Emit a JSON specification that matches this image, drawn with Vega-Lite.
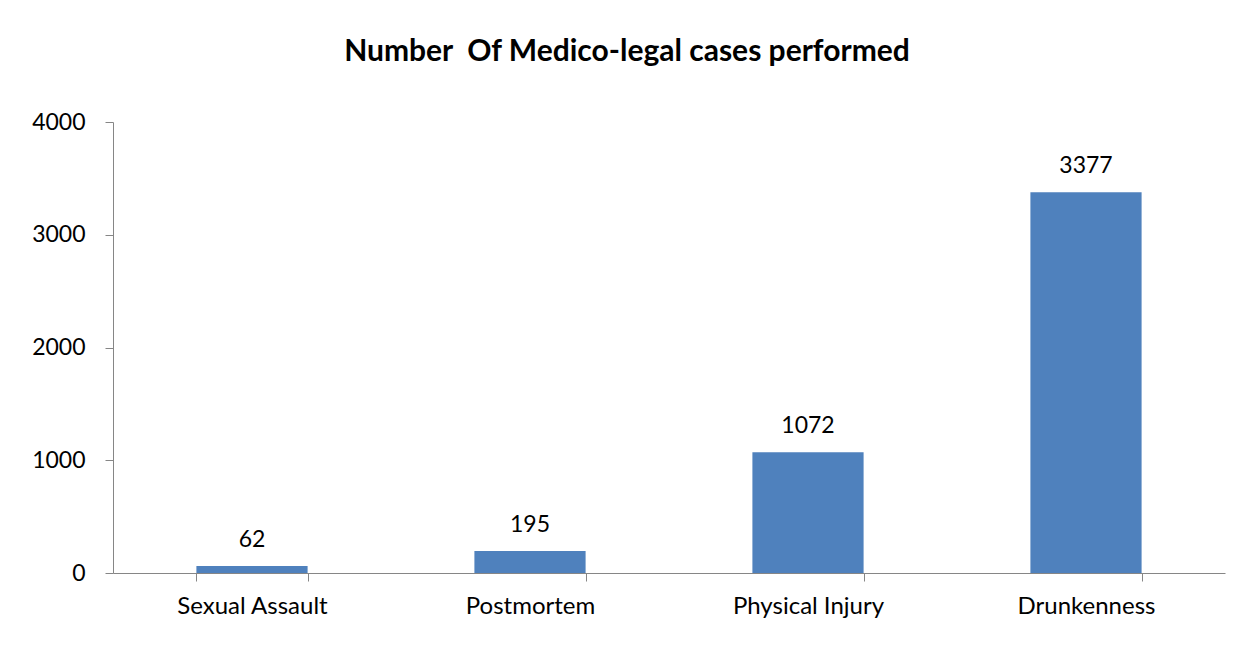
{
  "$schema": "https://vega.github.io/schema/vega-lite/v6.json",
  "autosize": "none",
  "width": 1112,
  "height": 451,
  "padding": {"left": 113, "top": 122, "right": 10, "bottom": 78},
  "background": "white",
  "title": {
    "text": "Number \u00a0Of Medico-legal cases performed",
    "font": "Lato",
    "fontSize": 30,
    "fontWeight": "bold",
    "color": "#000000",
    "anchor": "middle",
    "dx": -42,
    "offset": 44
  },
  "data": {
    "values": [
      {"category": "Sexual Assault", "cases": 62},
      {"category": "Postmortem", "cases": 195},
      {"category": "Physical Injury", "cases": 1072},
      {"category": "Drunkenness", "cases": 3377}
    ]
  },
  "encoding": {
    "x": {
      "field": "category",
      "type": "nominal",
      "sort": null,
      "scale": {"paddingInner": 0.6, "paddingOuter": 0.3},
      "axis": {
        "title": null,
        "labelAngle": 0,
        "tickBand": "extent",
        "labelFont": "Lato",
        "labelFontSize": 24,
        "labelColor": "#000000",
        "labelPadding": 13,
        "domainColor": "#868686",
        "tickColor": "#868686",
        "tickSize": 8
      }
    },
    "y": {
      "field": "cases",
      "type": "quantitative",
      "scale": {"domain": [0, 4000]},
      "axis": {
        "title": null,
        "values": [0, 1000, 2000, 3000, 4000],
        "format": "d",
        "grid": false,
        "labelFont": "Lato",
        "labelFontSize": 23,
        "labelColor": "#000000",
        "labelPadding": 20,
        "domainColor": "#868686",
        "tickColor": "#868686",
        "tickSize": 8
      }
    }
  },
  "layer": [
    {"mark": {"type": "bar", "color": "#4F81BD"}},
    {
      "mark": {"type": "text", "baseline": "alphabetic", "dy": -19, "font": "Lato", "fontSize": 23, "color": "#000000"},
      "encoding": {"text": {"field": "cases", "type": "quantitative", "format": "d"}}
    }
  ],
  "config": {"view": {"stroke": null}}
}
